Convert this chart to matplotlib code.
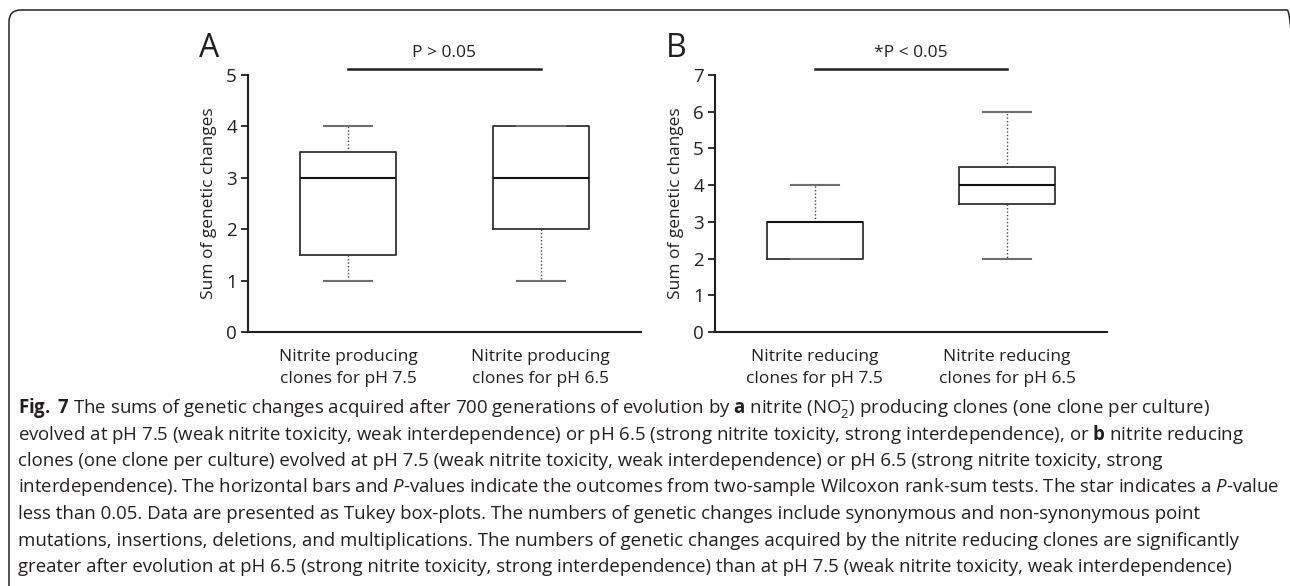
import matplotlib
matplotlib.use("Agg")
import matplotlib.pyplot as plt
from matplotlib.patches import FancyBboxPatch
from matplotlib.transforms import IdentityTransform

plt.rcParams["font.family"] = ["Open Sans", "DejaVu Sans"]
plt.rcParams["mathtext.fontset"] = "custom"
plt.rcParams["mathtext.rm"] = "Open Sans"
plt.rcParams["mathtext.it"] = "Open Sans:italic"
plt.rcParams["mathtext.bf"] = "Open Sans:bold"

W, H = 1290, 586
INK = "#231f20"

# Panel A: nitrite producing clones (Tukey summaries)
GROUPS_A = ["Nitrite producing\nclones for pH 7.5", "Nitrite producing\nclones for pH 6.5"]
WHISLO_A = [1, 1]
Q1_A = [1.5, 2]
MED_A = [3, 3]
Q3_A = [3.5, 4]
WHISHI_A = [4, 4]
YMAX_A = 5
P_TEXT_A = "P > 0.05"

# Panel B: nitrite reducing clones
GROUPS_B = ["Nitrite reducing\nclones for pH 7.5", "Nitrite reducing\nclones for pH 6.5"]
WHISLO_B = [2, 2]
Q1_B = [2, 3.5]
MED_B = [3, 4]
Q3_B = [3, 4.5]
WHISHI_B = [4, 6]
YMAX_B = 7
P_TEXT_B = "*P < 0.05"

YLABEL = "Sum of genetic changes"

CAPTION_LINES = [
    r"$\mathbf{Fig.}$ $\mathbf{7}$ The sums of genetic changes acquired after 700 generations of evolution by "
    r"$\mathbf{a}$ nitrite ($\mathrm{NO}_2^{-}$) producing clones (one clone per culture)",
    r"evolved at pH 7.5 (weak nitrite toxicity, weak interdependence) or pH 6.5 (strong nitrite "
    r"toxicity, strong interdependence), or $\mathbf{b}$ nitrite reducing",
    "clones (one clone per culture) evolved at pH 7.5 (weak nitrite toxicity, weak interdependence) "
    "or pH 6.5 (strong nitrite toxicity, strong",
    r"interdependence). The horizontal bars and $\mathit{P}$-values indicate the outcomes from "
    r"two-sample Wilcoxon rank-sum tests. The star indicates a $\mathit{P}$-value",
    "less than 0.05. Data are presented as Tukey box-plots. The numbers of genetic changes include "
    "synonymous and non-synonymous point",
    "mutations, insertions, deletions, and multiplications. The numbers of genetic changes acquired "
    "by the nitrite reducing clones are significantly",
    "greater after evolution at pH 6.5 (strong nitrite toxicity, strong interdependence) than at "
    "pH 7.5 (weak nitrite toxicity, weak interdependence)",
]


def make_stats(lo, q1, med, q3, hi):
    return [dict(whislo=a, q1=b, med=c, q3=d, whishi=e, fliers=[])
            for a, b, c, d, e in zip(lo, q1, med, q3, hi)]


def draw_panel(ax, stats, groups, ymax, p_text, letter):
    ax.bxp(stats, positions=[1, 2], widths=0.5, showfliers=False,
           boxprops=dict(color="#333333", linewidth=1.3),
           whiskerprops=dict(color="#444444", linewidth=1.0, linestyle=(0, (1, 1.5))),
           capprops=dict(color="#6e6e6e", linewidth=1.5),
           medianprops=dict(color="#111111", linewidth=1.5))
    ax.set_xlim(0.48, 2.52)
    ax.set_ylim(0, ymax)
    ax.set_yticks(range(ymax + 1))
    ax.set_xticks([1, 2])
    ax.set_xticklabels(groups, fontsize=12.5, color=INK, linespacing=1.5)
    ax.tick_params(axis="x", length=0, pad=12)
    ax.tick_params(axis="y", length=5, width=1.3, pad=3, labelsize=13.5,
                   colors=INK, direction="out")
    for side in ["top", "right"]:
        ax.spines[side].set_visible(False)
    for side in ["left", "bottom"]:
        ax.spines[side].set_linewidth(1.5)
        ax.spines[side].set_color(INK)
    ax.set_ylabel(YLABEL, fontsize=12.5, color=INK)
    ax.yaxis.set_label_coords(-0.078, 0.5)

    # significance bar between the two boxes
    tr = ax.get_xaxis_transform()
    ax.plot([1, 2], [1.024, 1.024], transform=tr, color=INK, lw=1.8, clip_on=False)
    ax.text(1.5, 1.085, p_text, transform=tr, ha="center", va="center",
            fontsize=12.5, color=INK)
    ax.text(-0.1, 1.105, letter, transform=ax.transAxes, ha="center", va="center",
            fontsize=23, color=INK)


fig = plt.figure(figsize=(W / 100, H / 100), dpi=100)

ax_a = fig.add_axes([248 / W, (H - 332) / H, 393 / W, 257 / H])
ax_b = fig.add_axes([715 / W, (H - 332) / H, 392 / W, 257 / H])

draw_panel(ax_a, make_stats(WHISLO_A, Q1_A, MED_A, Q3_A, WHISHI_A),
           GROUPS_A, YMAX_A, P_TEXT_A, "A")
draw_panel(ax_b, make_stats(WHISLO_B, Q1_B, MED_B, Q3_B, WHISHI_B),
           GROUPS_B, YMAX_B, P_TEXT_B, "B")

# caption
for i, line in enumerate(CAPTION_LINES):
    y_px = 413 + i * 26.5
    fig.text(18 / W, 1 - y_px / H, line, ha="left", va="baseline",
             fontsize=13.4, color=INK)

# rounded frame around the figure (right and bottom run off the image)
frame = FancyBboxPatch((9, -20), 1290, H - 10 + 20,
                       boxstyle="round,pad=0,rounding_size=12",
                       transform=IdentityTransform(), fill=False,
                       edgecolor="#222222", linewidth=1.1)
fig.patches.append(frame)

fig.savefig("out.png", dpi=100)
